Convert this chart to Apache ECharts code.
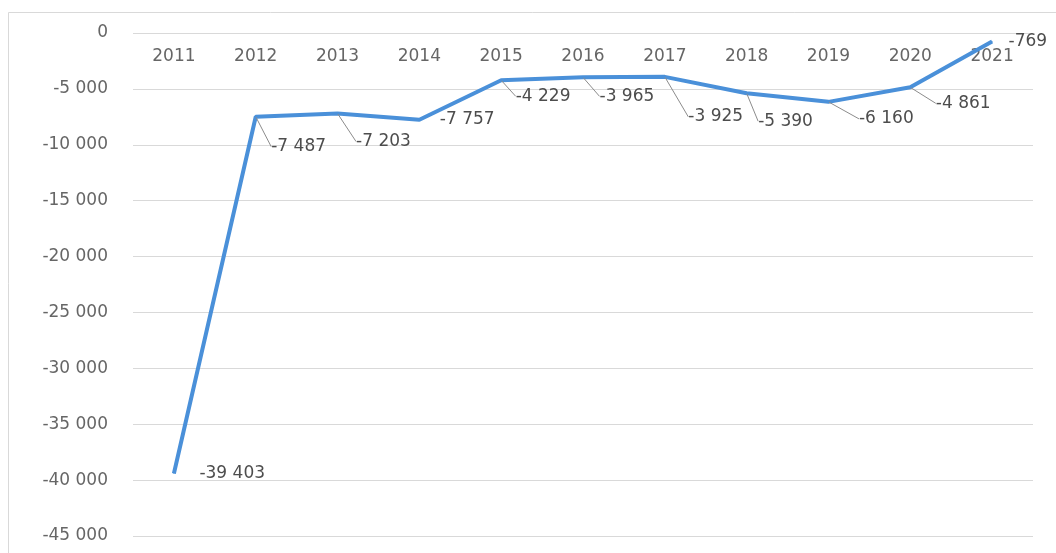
<!DOCTYPE html>
<html>
<head>
<meta charset="utf-8">
<script src="https://cdn.jsdelivr.net/npm/echarts@6/dist/echarts.min.js"></script>
<style>
html,body{margin:0;padding:0;background:#fff;}
#chart{width:1056px;height:553px;}
</style>
</head>
<body>
<div id="chart"></div>
<script>
const categories = ['2011','2012','2013','2014','2015','2016','2017','2018','2019','2020','2021'];
const values = [-39403, -7487, -7203, -7757, -4229, -3965, -3925, -5390, -6160, -4861, -769];
// label displacement from the default right-side position (dx, dy)
const labelShiftX = [20, 10, 13, 15, 9, 11, 18, 6, 25, 20, 11];
const labelShiftY = [0, 30, 28, 0, 16, 19, 40, 28, 17, 16, 0];
const hasLeader = [false, true, true, false, true, true, true, true, true, true, false];

function fmt(v){
  const s = Math.abs(Math.round(v)).toString().replace(/\B(?=(\d{3})+(?!\d))/g, ' ');
  return (v < 0 ? '-' : '') + s;
}

const seriesData = values.map((v, i) => ({
  value: v,
  labelLine: {show: hasLeader[i]}
}));

const chart = echarts.init(document.getElementById('chart'));
chart.setOption({
  animation: false,
  backgroundColor: '#ffffff',
  graphic: [{
    type: 'rect',
    shape: {x: 8.5, y: 12.5, width: 1200, height: 700},
    style: {fill: 'none', stroke: '#d9d9d9', lineWidth: 1},
    silent: true,
    z: -10
  }],
  grid: {left: 133, right: 23, top: 33, bottom: 17},
  xAxis: {
    type: 'category',
    data: categories,
    position: 'top',
    boundaryGap: true,
    axisLine: {show: false},
    axisTick: {show: false},
    axisLabel: {
      inside: true,
      margin: 15,
      color: '#666666',
      fontFamily: 'DejaVu Sans',
      fontSize: 17
    }
  },
  yAxis: {
    type: 'value',
    min: -45000,
    max: 0,
    interval: 5000,
    axisLine: {show: false},
    axisTick: {show: false},
    splitLine: {lineStyle: {color: '#d9d9d9', width: 1}},
    axisLabel: {
      margin: 25,
      color: '#666666',
      fontFamily: 'DejaVu Sans',
      fontSize: 17,
      formatter: v => fmt(v)
    }
  },
  series: [{
    type: 'line',
    data: seriesData,
    symbol: 'circle',
    symbolSize: 1,
    showSymbol: true,
    lineStyle: {color: '#4a90d9', width: 4},
    itemStyle: {color: '#4a90d9'},
    label: {
      show: true,
      position: 'right',
      distance: 5,
      color: '#4d4d4d',
      fontFamily: 'DejaVu Sans',
      fontSize: 17,
      formatter: p => fmt(p.value)
    },
    labelLine: {
      show: true,
      lineStyle: {color: '#8c8c8c', width: 1}
    },
    labelLayout: function (params) {
      const i = params.dataIndex;
      return {dx: labelShiftX[i], dy: labelShiftY[i]};
    }
  }]
});
</script>
</body>
</html>
